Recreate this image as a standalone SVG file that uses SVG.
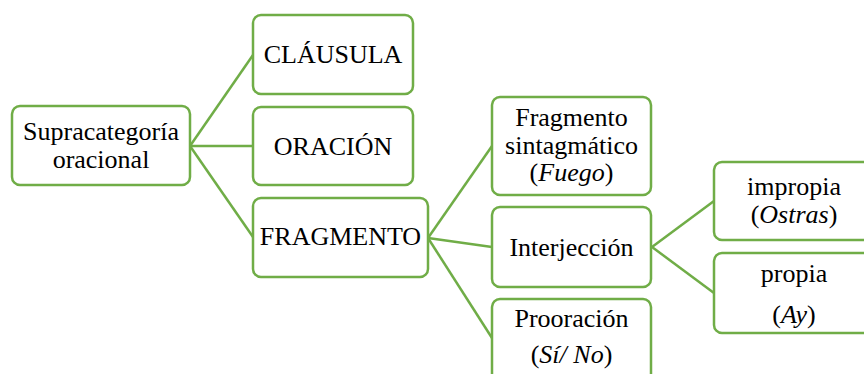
<svg xmlns="http://www.w3.org/2000/svg" width="864" height="374" viewBox="0 0 864 374">
<style>
.box{fill:#fff;stroke:#70AD47;stroke-width:2.5}
.lbl{font-family:"Liberation Serif","Times New Roman",serif;font-size:26px;fill:#000;text-anchor:middle}
.con line{stroke:#70AD47;stroke-width:2.5}
</style>
<rect width="864" height="374" fill="#fff"/>
<g id="connectors" class="con">
<line x1="190" y1="146" x2="253" y2="55"/>
<line x1="190" y1="146" x2="253" y2="146"/>
<line x1="190" y1="146" x2="253" y2="237"/>
<line x1="428" y1="238" x2="492" y2="146"/>
<line x1="428" y1="238" x2="492" y2="247"/>
<line x1="428" y1="238" x2="492" y2="338"/>
<line x1="652" y1="247" x2="714" y2="201"/>
<line x1="652" y1="247" x2="714" y2="293"/>
</g>
<g id="supracategoria">
<rect class="box" x="12" y="106" width="178" height="79" rx="8"/>
<text class="lbl" x="101" y="140">Supracategoría</text>
<text class="lbl" x="101" y="168">oracional</text>
</g>
<g id="clausula">
<rect class="box" x="253" y="15" width="160" height="79" rx="8"/>
<text class="lbl" x="333" y="63">CLÁUSULA</text>
</g>
<g id="oracion">
<rect class="box" x="253" y="107" width="160" height="78" rx="8"/>
<text class="lbl" x="333" y="155">ORACIÓN</text>
</g>
<g id="fragmento">
<rect class="box" x="253" y="198" width="175" height="79" rx="8"/>
<text class="lbl" x="340.5" y="245">FRAGMENTO</text>
</g>
<g id="fragmento-sintagmatico">
<rect class="box" x="492" y="97" width="159" height="98" rx="8"/>
<text class="lbl" x="571.5" y="126">Fragmento</text>
<text class="lbl" x="571.5" y="154">sintagmático</text>
<text class="lbl" x="571.5" y="181">(<tspan font-style="italic">Fuego</tspan>)</text>
</g>
<g id="interjeccion">
<rect class="box" x="492" y="207" width="159" height="80" rx="8"/>
<text class="lbl" x="571.5" y="256">Interjección</text>
</g>
<g id="prooracion">
<rect class="box" x="492" y="299" width="159" height="90" rx="8"/>
<text class="lbl" x="571.5" y="327">Prooración</text>
<text class="lbl" x="571.5" y="363">(<tspan font-style="italic">Sí/ No</tspan>)</text>
</g>
<g id="impropia">
<rect class="box" x="714" y="162" width="160" height="78" rx="8"/>
<text class="lbl" x="794" y="195">impropia</text>
<text class="lbl" x="794" y="223">(<tspan font-style="italic">Ostras</tspan>)</text>
</g>
<g id="propia">
<rect class="box" x="714" y="253" width="160" height="80" rx="8"/>
<text class="lbl" x="794" y="282">propia</text>
<text class="lbl" x="794" y="323">(<tspan font-style="italic">Ay</tspan>)</text>
</g>
</svg>
